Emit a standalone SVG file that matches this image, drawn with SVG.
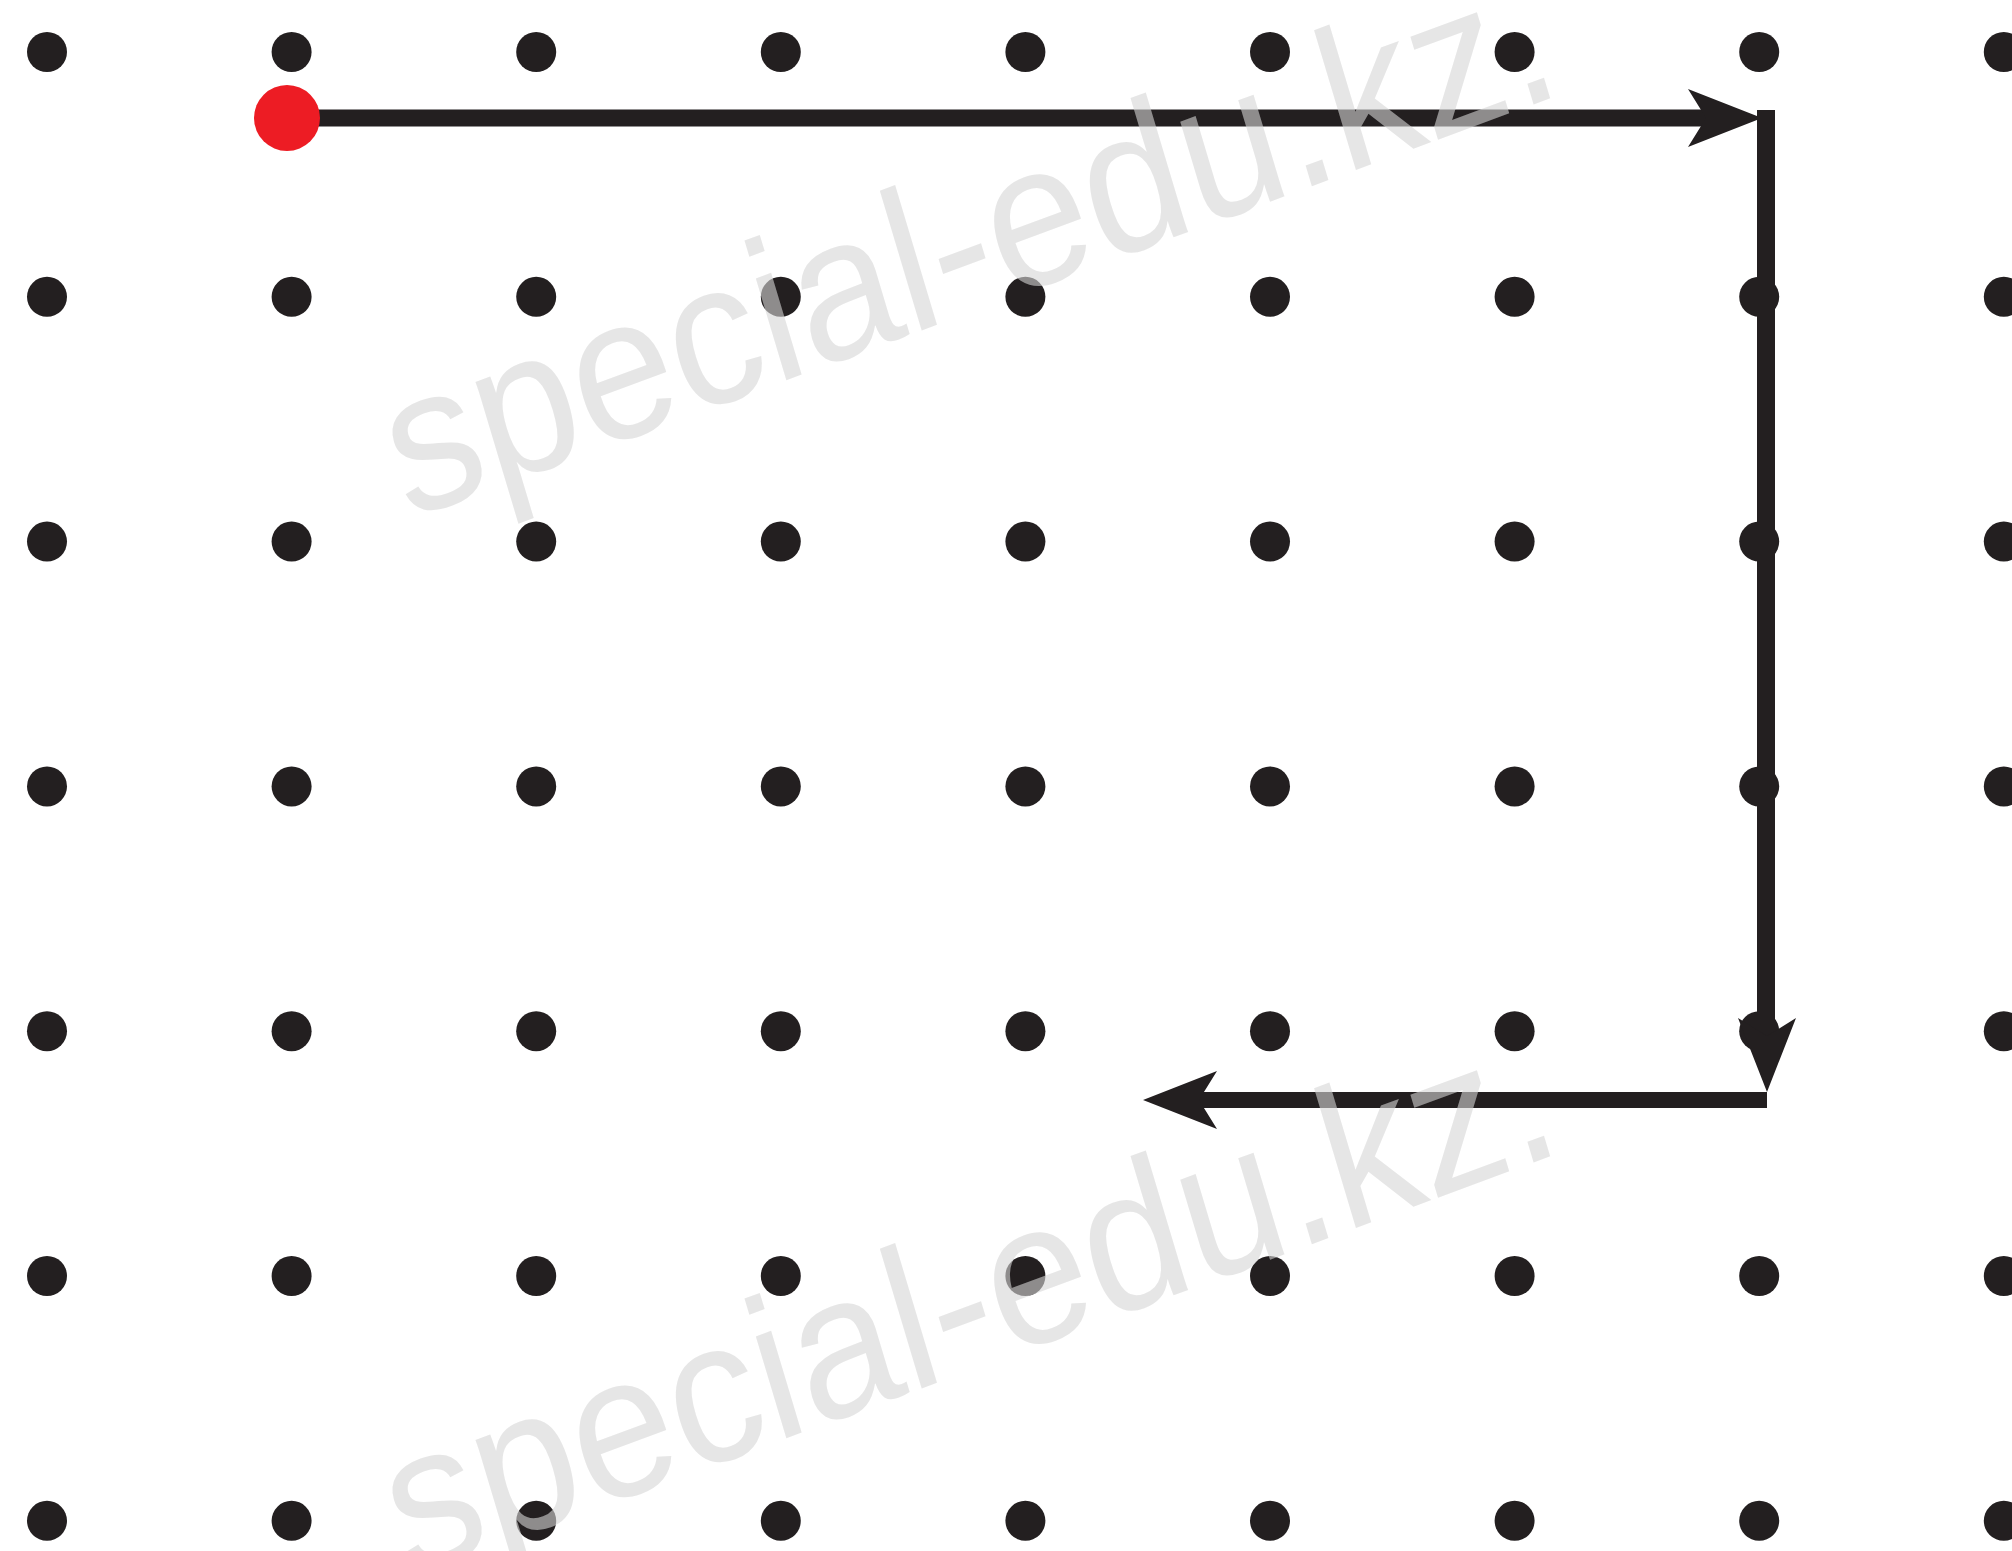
<svg xmlns="http://www.w3.org/2000/svg" xmlns:xlink="http://www.w3.org/1999/xlink" width="2012" height="1551" viewBox="0 0 2012 1551">
<style>
.dot{fill:#231f20}
.start{fill:#ed1c24}
.seg{stroke:#231f20;fill:none;stroke-linecap:butt}
.head{fill:#231f20}
.wm{font-family:"Liberation Sans",Arial,sans-serif;font-size:183px;fill:#d6d6d6;fill-opacity:0.6}
</style>
<defs>
<path id="arrowhead" class="head" d="M0,0 L-74,-29 L-56,0 L-74,29 Z"/>
</defs>
<rect width="2012" height="1551" fill="#ffffff"/>
<g id="grid">
<g id="dot-0-0"><circle class="dot" cx="47" cy="52" r="20"/></g>
<g id="dot-0-1"><circle class="dot" cx="291.6" cy="52" r="20"/></g>
<g id="dot-0-2"><circle class="dot" cx="536.2" cy="52" r="20"/></g>
<g id="dot-0-3"><circle class="dot" cx="780.8" cy="52" r="20"/></g>
<g id="dot-0-4"><circle class="dot" cx="1025.4" cy="52" r="20"/></g>
<g id="dot-0-5"><circle class="dot" cx="1270" cy="52" r="20"/></g>
<g id="dot-0-6"><circle class="dot" cx="1514.6" cy="52" r="20"/></g>
<g id="dot-0-7"><circle class="dot" cx="1759.2" cy="52" r="20"/></g>
<g id="dot-0-8"><circle class="dot" cx="2003.8" cy="52" r="20"/></g>
<g id="dot-1-0"><circle class="dot" cx="47" cy="296.8" r="20"/></g>
<g id="dot-1-1"><circle class="dot" cx="291.6" cy="296.8" r="20"/></g>
<g id="dot-1-2"><circle class="dot" cx="536.2" cy="296.8" r="20"/></g>
<g id="dot-1-3"><circle class="dot" cx="780.8" cy="296.8" r="20"/></g>
<g id="dot-1-4"><circle class="dot" cx="1025.4" cy="296.8" r="20"/></g>
<g id="dot-1-5"><circle class="dot" cx="1270" cy="296.8" r="20"/></g>
<g id="dot-1-6"><circle class="dot" cx="1514.6" cy="296.8" r="20"/></g>
<g id="dot-1-7"><circle class="dot" cx="1759.2" cy="296.8" r="20"/></g>
<g id="dot-1-8"><circle class="dot" cx="2003.8" cy="296.8" r="20"/></g>
<g id="dot-2-0"><circle class="dot" cx="47" cy="541.6" r="20"/></g>
<g id="dot-2-1"><circle class="dot" cx="291.6" cy="541.6" r="20"/></g>
<g id="dot-2-2"><circle class="dot" cx="536.2" cy="541.6" r="20"/></g>
<g id="dot-2-3"><circle class="dot" cx="780.8" cy="541.6" r="20"/></g>
<g id="dot-2-4"><circle class="dot" cx="1025.4" cy="541.6" r="20"/></g>
<g id="dot-2-5"><circle class="dot" cx="1270" cy="541.6" r="20"/></g>
<g id="dot-2-6"><circle class="dot" cx="1514.6" cy="541.6" r="20"/></g>
<g id="dot-2-7"><circle class="dot" cx="1759.2" cy="541.6" r="20"/></g>
<g id="dot-2-8"><circle class="dot" cx="2003.8" cy="541.6" r="20"/></g>
<g id="dot-3-0"><circle class="dot" cx="47" cy="786.4" r="20"/></g>
<g id="dot-3-1"><circle class="dot" cx="291.6" cy="786.4" r="20"/></g>
<g id="dot-3-2"><circle class="dot" cx="536.2" cy="786.4" r="20"/></g>
<g id="dot-3-3"><circle class="dot" cx="780.8" cy="786.4" r="20"/></g>
<g id="dot-3-4"><circle class="dot" cx="1025.4" cy="786.4" r="20"/></g>
<g id="dot-3-5"><circle class="dot" cx="1270" cy="786.4" r="20"/></g>
<g id="dot-3-6"><circle class="dot" cx="1514.6" cy="786.4" r="20"/></g>
<g id="dot-3-7"><circle class="dot" cx="1759.2" cy="786.4" r="20"/></g>
<g id="dot-3-8"><circle class="dot" cx="2003.8" cy="786.4" r="20"/></g>
<g id="dot-4-0"><circle class="dot" cx="47" cy="1031.2" r="20"/></g>
<g id="dot-4-1"><circle class="dot" cx="291.6" cy="1031.2" r="20"/></g>
<g id="dot-4-2"><circle class="dot" cx="536.2" cy="1031.2" r="20"/></g>
<g id="dot-4-3"><circle class="dot" cx="780.8" cy="1031.2" r="20"/></g>
<g id="dot-4-4"><circle class="dot" cx="1025.4" cy="1031.2" r="20"/></g>
<g id="dot-4-5"><circle class="dot" cx="1270" cy="1031.2" r="20"/></g>
<g id="dot-4-6"><circle class="dot" cx="1514.6" cy="1031.2" r="20"/></g>
<g id="dot-4-7"><circle class="dot" cx="1759.2" cy="1031.2" r="20"/></g>
<g id="dot-4-8"><circle class="dot" cx="2003.8" cy="1031.2" r="20"/></g>
<g id="dot-5-0"><circle class="dot" cx="47" cy="1276" r="20"/></g>
<g id="dot-5-1"><circle class="dot" cx="291.6" cy="1276" r="20"/></g>
<g id="dot-5-2"><circle class="dot" cx="536.2" cy="1276" r="20"/></g>
<g id="dot-5-3"><circle class="dot" cx="780.8" cy="1276" r="20"/></g>
<g id="dot-5-4"><circle class="dot" cx="1025.4" cy="1276" r="20"/></g>
<g id="dot-5-5"><circle class="dot" cx="1270" cy="1276" r="20"/></g>
<g id="dot-5-6"><circle class="dot" cx="1514.6" cy="1276" r="20"/></g>
<g id="dot-5-7"><circle class="dot" cx="1759.2" cy="1276" r="20"/></g>
<g id="dot-5-8"><circle class="dot" cx="2003.8" cy="1276" r="20"/></g>
<g id="dot-6-0"><circle class="dot" cx="47" cy="1520.8" r="20"/></g>
<g id="dot-6-1"><circle class="dot" cx="291.6" cy="1520.8" r="20"/></g>
<g id="dot-6-2"><circle class="dot" cx="536.2" cy="1520.8" r="20"/></g>
<g id="dot-6-3"><circle class="dot" cx="780.8" cy="1520.8" r="20"/></g>
<g id="dot-6-4"><circle class="dot" cx="1025.4" cy="1520.8" r="20"/></g>
<g id="dot-6-5"><circle class="dot" cx="1270" cy="1520.8" r="20"/></g>
<g id="dot-6-6"><circle class="dot" cx="1514.6" cy="1520.8" r="20"/></g>
<g id="dot-6-7"><circle class="dot" cx="1759.2" cy="1520.8" r="20"/></g>
<g id="dot-6-8"><circle class="dot" cx="2003.8" cy="1520.8" r="20"/></g>
</g>
<g id="connectors">
<g id="move-right">
<line class="seg" x1="287" y1="118" x2="1715" y2="118" stroke-width="17"/>
<use xlink:href="#arrowhead" href="#arrowhead" transform="translate(1762,118)"/>
</g>
<g id="move-down">
<line class="seg" x1="1766" y1="110" x2="1766" y2="1040" stroke-width="18"/>
<use xlink:href="#arrowhead" href="#arrowhead" transform="translate(1767,1092) rotate(90)"/>
</g>
<g id="move-left">
<line class="seg" x1="1767" y1="1100" x2="1190" y2="1100" stroke-width="16"/>
<use xlink:href="#arrowhead" href="#arrowhead" transform="translate(1143,1100) rotate(180)"/>
</g>
</g>
<g id="start">
<circle class="start" cx="287" cy="118" r="33"/>
</g>
<g id="watermark">
<text class="wm" x="0" y="0" transform="translate(408,520) scale(1,1.11) rotate(-18.4)">special-edu.kz.</text>
<text class="wm" x="0" y="0" transform="translate(408,1578) scale(1,1.11) rotate(-18.4)">special-edu.kz.</text>
</g>
</svg>
